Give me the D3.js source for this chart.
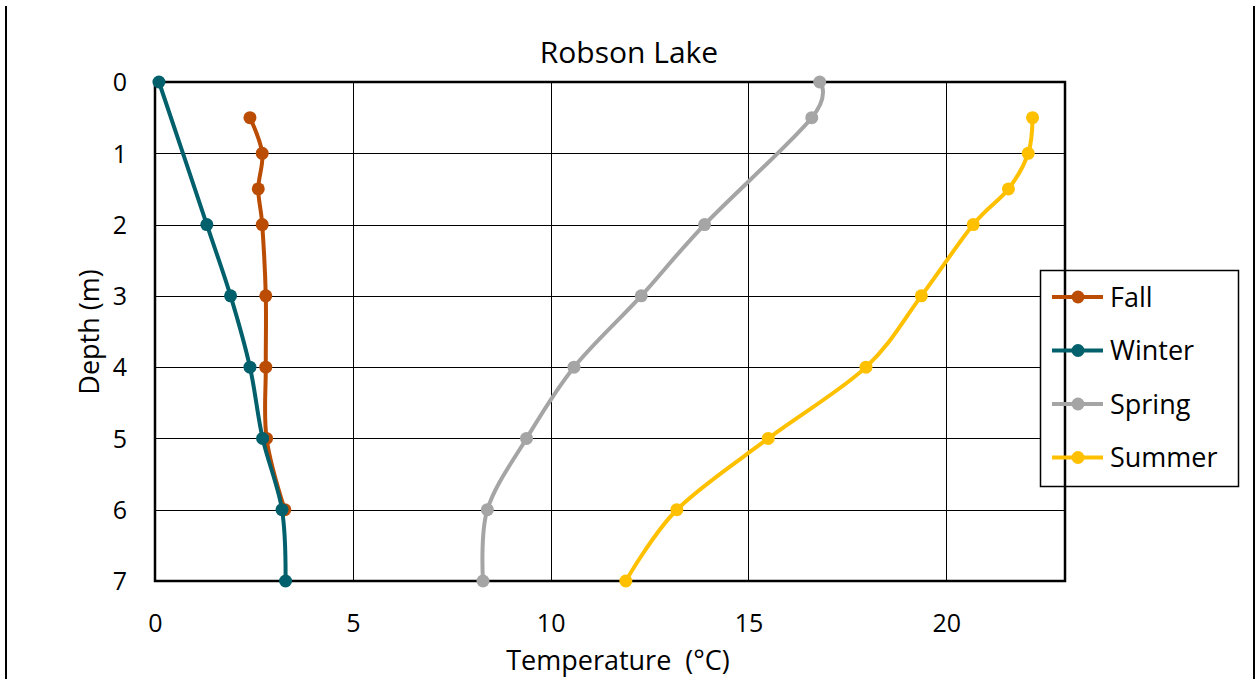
<!DOCTYPE html>
<html>
<head>
<meta charset="utf-8">
<script src="https://cdn.jsdelivr.net/npm/d3@7"></script>
<style>
  body { margin: 0; background: #fff; }
</style>
</head>
<body>
<div id="RobsonPlot"></div>
<script>
// depths (m) and temperatures (°C)
const fallDepth = [0.5, 1, 1.5, 2, 3, 4, 5, 6];
const fallTemp = [2.4, 2.71, 2.61, 2.71, 2.8, 2.8, 2.82, 3.28];
const winterDepth = [0, 2, 3, 4, 5, 6, 7];
const winterTemp = [0.1, 1.31, 1.91, 2.4, 2.72, 3.21, 3.3];
const springDepth = [0, 0.5, 2, 3, 4, 5, 6, 7];
const springTemp = [16.8, 16.6, 13.89, 12.29, 10.59, 9.39, 8.4, 8.29];
const summerDepth = [0.5, 1, 1.5, 2, 3, 4, 5, 6, 7];
const summerTemp = [22.18, 22.07, 21.57, 20.68, 19.37, 17.97, 15.5, 13.19, 11.9];

const seriesNames = ["Fall", "Winter", "Spring", "Summer"];
const xTicks = [0, 5, 10, 15, 20];
const yTicks = [0, 1, 2, 3, 4, 5, 6, 7];

let plotName = "RobsonPlot";
let width = 1256, height = 679;
let font = "'Open Sans', 'Noto Sans', sans-serif";
let colors = { Fall: "#BA4C04", Winter: "#01606B", Spring: "#A5A5A5", Summer: "#FFC000" };

let series = [
  { name: "Fall", d: fallDepth, t: fallTemp },
  { name: "Winter", d: winterDepth, t: winterTemp },
  { name: "Spring", d: springDepth, t: springTemp },
  { name: "Summer", d: summerDepth, t: summerTemp }
].map(s => ({ name: s.name, pts: s.d.map((dep, i) => ({ x: s.t[i], y: dep })) }));

let x = d3.scaleLinear().domain([0, 23]).range([155, 1065]);
let y = d3.scaleLinear().domain([0, 7]).range([82, 581]);

let svg = d3.select("#" + plotName).append("svg")
  .attr("width", width).attr("height", height)
  .style("font-family", font);

// outer chart frame edges
svg.append("line").attr("x1", 6).attr("x2", 6).attr("y1", 6).attr("y2", height)
  .attr("stroke", "#000").attr("stroke-width", 2);
svg.append("line").attr("x1", 1254).attr("x2", 1254).attr("y1", 6).attr("y2", height)
  .attr("stroke", "#000").attr("stroke-width", 2);

// gridlines
svg.append("g").selectAll("line").data(xTicks.slice(1)).enter().append("line")
  .attr("x1", d => Math.round(x(d)) + 0.5).attr("x2", d => Math.round(x(d)) + 0.5)
  .attr("y1", y(0)).attr("y2", y(7))
  .attr("stroke", "#000").attr("stroke-width", 1);
svg.append("g").selectAll("line").data(yTicks.slice(1, -1)).enter().append("line")
  .attr("y1", d => Math.round(y(d)) + 0.5).attr("y2", d => Math.round(y(d)) + 0.5)
  .attr("x1", x(0)).attr("x2", x(23))
  .attr("stroke", "#000").attr("stroke-width", 1);

// plot border
svg.append("rect")
  .attr("x", x(0)).attr("y", y(0))
  .attr("width", x(23) - x(0)).attr("height", y(7) - y(0))
  .attr("fill", "none").attr("stroke", "#000").attr("stroke-width", 2.5);

// axes (labels only, Excel style)
let xAxis = d3.axisBottom(x).tickValues(xTicks).tickSize(0).tickFormat(d3.format("d"));
let yAxis = d3.axisLeft(y).tickValues(yTicks).tickSize(0).tickFormat(d3.format("d"));

let gx = svg.append("g").attr("transform", "translate(0," + y(7) + ")").call(xAxis)
  .attr("font-family", font).attr("font-size", 25);
gx.select(".domain").remove();
gx.selectAll("text").attr("fill", "#000").attr("y", 42).attr("dy", "0.35em");

let gy = svg.append("g").attr("transform", "translate(" + x(0) + ",0)").call(yAxis)
  .attr("font-family", font).attr("font-size", 25);
gy.select(".domain").remove();
gy.selectAll("text").attr("fill", "#000").attr("x", -28).attr("dy", "0.35em");

// title & axis labels
svg.append("text").attr("x", 629).attr("y", 63)
  .attr("text-anchor", "middle").attr("font-size", 30).text("Robson Lake");
svg.append("text").attr("x", 618).attr("y", 670)
  .attr("text-anchor", "middle").attr("font-size", 27)
  .attr("xml:space", "preserve").text("Temperature  (°C)");
svg.append("text").attr("transform", "translate(99,332) rotate(-90)")
  .attr("text-anchor", "middle").attr("font-size", 27).text("Depth (m)");

// series
let line = d3.line().x(d => x(d.x)).y(d => y(d.y)).curve(d3.curveCatmullRom.alpha(0));

let seriesG = svg.selectAll("." + plotName + "_series").data(series).enter()
  .append("g").classed(plotName + "_series", true);

seriesG.append("path")
  .attr("d", s => line(s.pts))
  .attr("fill", "none")
  .attr("stroke", s => colors[s.name])
  .attr("stroke-width", 4)
  .attr("stroke-linejoin", "round");

seriesG.each(function(s) {
  d3.select(this).selectAll("circle").data(s.pts).enter().append("circle")
    .attr("cx", d => x(d.x)).attr("cy", d => y(d.y)).attr("r", 6.5)
    .attr("fill", colors[s.name]);
});

// legend
let legend = svg.append("g").attr("transform", "translate(1040,270)");
legend.append("rect").attr("x", 0.5).attr("y", 0.5).attr("width", 198).attr("height", 216)
  .attr("fill", "#fff").attr("stroke", "#000").attr("stroke-width", 1.5);
// plot right border shows through the legend in the reference
svg.append("line").attr("x1", x(23)).attr("x2", x(23)).attr("y1", 270).attr("y2", 486)
  .attr("stroke", "#000").attr("stroke-width", 2.5);

let legendItem = svg.append("g").attr("transform", "translate(1040,270)")
  .selectAll("g").data(seriesNames).enter().append("g")
  .attr("transform", (d, i) => "translate(0," + (27 + i * 53.5) + ")");
legendItem.append("line").attr("x1", 12).attr("x2", 63).attr("y1", 0).attr("y2", 0)
  .attr("stroke", d => colors[d]).attr("stroke-width", 4);
legendItem.append("circle").attr("cx", 38).attr("cy", 0).attr("r", 6.5)
  .attr("fill", d => colors[d]);
legendItem.append("text").attr("x", 70).attr("y", 0).attr("dy", "0.36em")
  .attr("font-size", 27).text(d => d);
</script>
</body>
</html>
